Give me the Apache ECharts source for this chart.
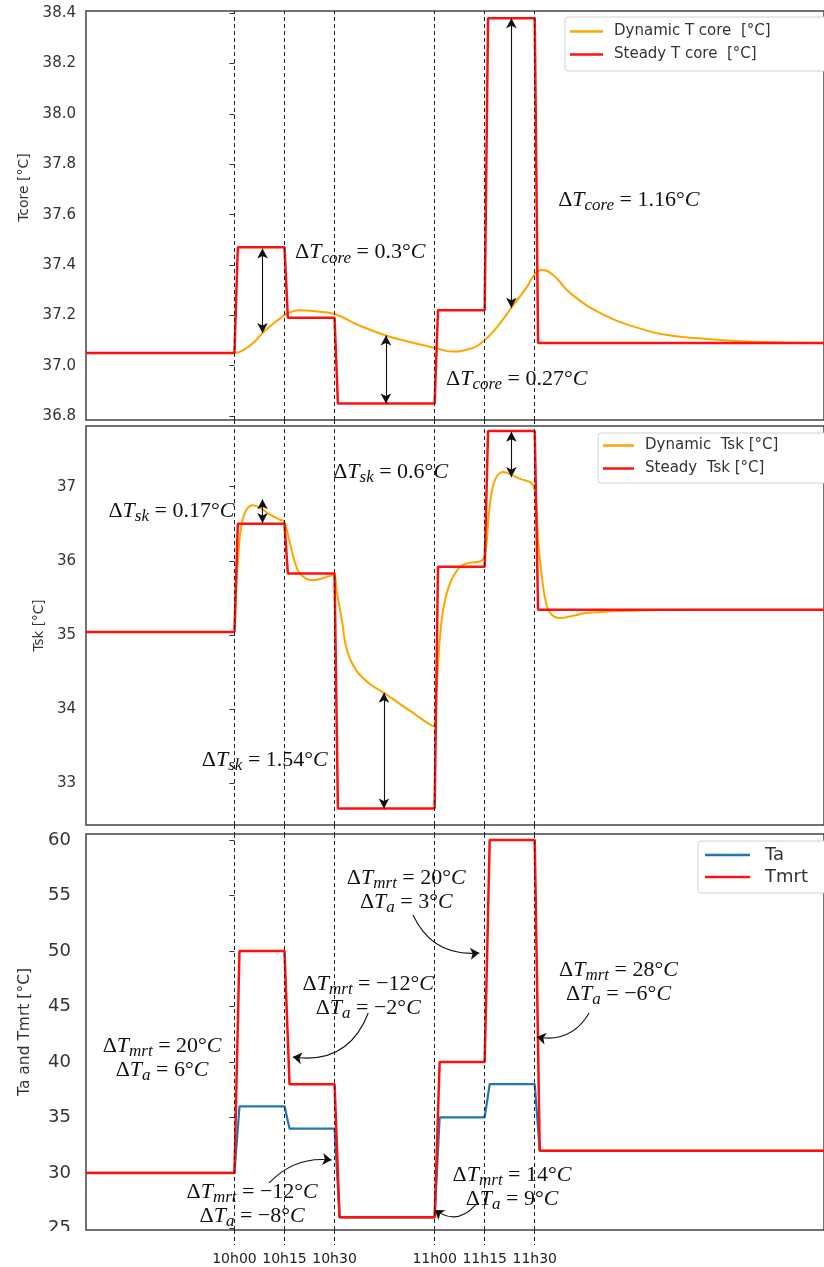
<!DOCTYPE html>
<html><head><meta charset="utf-8">
<script src="https://cdn.jsdelivr.net/npm/echarts@6/dist/echarts.min.js"></script>
<style>html,body{margin:0;padding:0;background:#fff}#c{width:824px;height:1267px}</style>
</head><body><div id="c"></div>
<script>
// ---------------- DATA (time = minutes after 10h00) ----------------
const timeTicks = [0, 15, 30, 60, 75, 90];
const timeTickLabels = ['10h00', '10h15', '10h30', '11h00', '11h15', '11h30'];

const tcoreTicks = [36.8, 37.0, 37.2, 37.4, 37.6, 37.8, 38.0, 38.2, 38.4];
const tskTicks = [33, 34, 35, 36, 37];
const taTicks = [25, 30, 35, 40, 45, 50, 55, 60];

// Panel 1 – core temperature
const tcoreSteadyTime  = [-44.5, 0, 1, 15, 16, 30, 31, 60, 61, 75, 76, 90, 91, 176.7];
const tcoreSteadyValue = [37.05, 37.05, 37.47, 37.47, 37.19, 37.19, 36.85, 36.85, 37.22, 37.22, 38.38, 38.38, 37.09, 37.09];
const tcoreDynTime  = [-44.5, 0, 3.0, 6.0, 8.4, 11.0, 13.4, 16.4, 19.4, 24.8, 29.9, 37.3, 45.4, 52.2, 60.3, 65.1, 70.1, 74.0, 78.5, 83.0, 87.5, 90.1, 91.9, 95.5, 100.9, 111.0, 120.9, 130.7, 140.9, 155.8, 176.7];
const tcoreDynValue = [37.05, 37.05, 37.065, 37.095, 37.13, 37.16, 37.185, 37.21, 37.22, 37.215, 37.205, 37.16, 37.12, 37.095, 37.07, 37.056, 37.065, 37.09, 37.15, 37.23, 37.31, 37.365, 37.38, 37.36, 37.285, 37.2, 37.15, 37.12, 37.107, 37.095, 37.09];

// Panel 2 – skin temperature
const tskSteadyTime  = [-44.5, 0, 1, 15, 16, 30, 31, 60, 61, 75, 76, 90, 91, 176.7];
const tskSteadyValue = [35.04, 35.04, 36.50, 36.50, 35.83, 35.83, 32.66, 32.66, 35.92, 35.92, 37.75, 37.75, 35.34, 35.34];
const tskDynTime  = [-44.5, -0.3, 0.15, 0.6, 1.2, 1.8, 2.7, 3.9, 5.4, 7.5, 10.4, 13.4, 14.9, 16.4, 17.9, 19.4, 21.5, 23.3, 26.0, 29.6, 30.7, 32.2, 33.7, 36.4, 40.3, 44.8, 52.2, 59.7, 60.6, 62.1, 64.2, 67.2, 70.1, 74.0, 75.2, 76.1, 77.0, 78.5, 80.6, 83.0, 86.0, 89.0, 90.2, 91.0, 91.9, 93.1, 94.6, 97.6, 101.5, 106.0, 120.9, 138.8, 176.7];
const tskDynValue = [35.04, 35.04, 35.2, 35.7, 36.1, 36.4, 36.6, 36.71, 36.75, 36.72, 36.63, 36.56, 36.53, 36.28, 36.01, 35.84, 35.76, 35.74, 35.76, 35.81, 35.57, 35.2, 34.8, 34.53, 34.35, 34.22, 33.99, 33.77, 34.3, 35.2, 35.65, 35.9, 35.97, 36.0, 36.1, 36.55, 36.9, 37.13, 37.2, 37.16, 37.1, 37.05, 36.9, 36.3, 35.88, 35.5, 35.3, 35.23, 35.26, 35.3, 35.33, 35.34, 35.34];

// Panel 3 – air and mean radiant temperature
const envTime   = [-44.5, 0, 1.5, 15, 16.5, 30, 31.5, 60, 61.5, 75, 76.5, 90, 91.5, 176.7];
const taValue   = [30, 30, 36, 36, 34, 34, 26, 26, 35, 35, 38, 38, 32, 32];
const tmrtValue = [30, 30, 50, 50, 38, 38, 26, 26, 40, 40, 60, 60, 32, 32];

// ---------------- CHART ----------------
const X_MIN = -44.5, X_MAX = 176.7;
const SANS = 'DejaVu Sans';
const SERIF = 'Liberation Serif';
const INK = '#111';
const zip = (t, v) => t.map((x, i) => [x, v[i]]);

function mathRich(fs, lh) {
  const sub = Math.round(fs * 0.76);
  return {
    d: { fontFamily: SERIF, fontSize: fs, color: INK, lineHeight: lh },
    i: { fontFamily: SERIF, fontStyle: 'italic', fontSize: fs, color: INK, lineHeight: lh },
    n: { fontFamily: SERIF, fontSize: fs, color: INK, lineHeight: lh },
    s: { fontFamily: SERIF, fontStyle: 'italic', fontSize: sub, color: INK, lineHeight: lh, padding: [Math.round(fs * 0.5), 0, 0, 0] }
  };
}
const dT = (sub, val) => `{d|Δ}{i|T}{s|${sub}}{n| = ${val}°}{i|C}`;

const dashTick = { color: '#222', width: 1, type: [4, 3] };
function xAxis(gi, bottom, gapTick) {
  const a = {
    type: 'value', gridIndex: gi, min: X_MIN, max: X_MAX,
    axisLine: { show: false }, splitLine: { show: false },
    axisTick: { show: true, customValues: timeTicks, length: gapTick, lineStyle: dashTick },
    axisLabel: { show: false }
  };
  if (bottom) {
    a.axisLabel = { show: true, customValues: timeTicks, formatter: v => timeTickLabels[timeTicks.indexOf(v)],
      margin: 22, fontSize: 14, fontFamily: SANS, color: '#222' };
  }
  return a;
}
function yAxis(gi, min, max, ticks, dec, fs, margin, name, nameFs, nameGap, namePad) {
  return {
    type: 'value', gridIndex: gi, min, max,
    axisLine: { show: false }, splitLine: { show: false },
    axisTick: { show: true, customValues: ticks, length: 5, lineStyle: { color: '#333', width: 1 } },
    axisLabel: { customValues: ticks, formatter: v => v.toFixed(dec), fontSize: fs, fontFamily: SANS, color: '#333', margin },
    name, nameLocation: 'middle', nameGap,
    nameTextStyle: { fontSize: nameFs, fontFamily: SANS, color: '#333', padding: namePad }
  };
}

function vlines(gi) {
  return {
    type: 'line', xAxisIndex: gi, yAxisIndex: gi, data: [], silent: true,
    markLine: { silent: true, symbol: ['none', 'none'], label: { show: false }, lineStyle: dashTick,
      data: timeTicks.map(t => ({ xAxis: t })) }
  };
}
function dbl(x, y1, y2) {
  return [{ coord: [x, y1], symbol: 'arrow' }, { coord: [x, y2], symbol: 'arrow' }];
}
function curvedArrow(gi, x1, y1, x2, y2, c) {
  return {
    type: 'lines', coordinateSystem: 'cartesian2d', xAxisIndex: gi, yAxisIndex: gi, silent: true, z: 5,
    symbol: ['none', 'arrow'], symbolSize: 9,
    lineStyle: { color: INK, width: 1.1, curveness: c, opacity: 1 },
    data: [{ coords: [[x1, y1], [x2, y2]] }]
  };
}
function annot(gi, arrows, texts, fs, lh) {
  return {
    type: 'line', xAxisIndex: gi, yAxisIndex: gi, data: [], silent: true, z: 5,
    markLine: { silent: true, symbolSize: [8, 10], label: { show: false },
      lineStyle: { color: INK, width: 1.1, type: 'solid' }, data: arrows },
    markPoint: { silent: true, symbol: 'circle', symbolSize: 1, itemStyle: { color: 'rgba(0,0,0,0)' },
      label: { show: true, position: 'inside', align: 'center', rich: mathRich(fs, lh) },
      data: texts.map(t => ({ coord: t.at, label: { formatter: t.text } })) }
  };
}

const legendBase = {
  orient: 'vertical', icon: 'rect', itemHeight: 2.5, borderColor: '#d0d0d0', borderWidth: 1,
  borderRadius: 3, backgroundColor: '#fff'
};

const option = {
  animation: false,
  textStyle: { fontFamily: SANS },
  grid: [
    { left: 86, right: -3, top: 11, height: 409, show: true, borderColor: '#444', borderWidth: 1.5, backgroundColor: '#fff' },
    { left: 86, right: -3, top: 426, height: 399, show: true, borderColor: '#444', borderWidth: 1.5, backgroundColor: '#fff' },
    { left: 86, right: -3, top: 834, height: 396, show: true, borderColor: '#444', borderWidth: 1.5, backgroundColor: '#fff' }
  ],
  xAxis: [xAxis(0, false, 6), xAxis(1, false, 9), xAxis(2, true, 15)],
  yAxis: [
    yAxis(0, 36.784, 38.409, tcoreTicks, 1, 15, 10, 'Tcore [°C]', 14, 52, [0, 0, 0, 56]),
    yAxis(1, 32.438, 37.819, tskTicks, 0, 15, 10, 'Tsk [°C]', 13.5, 37, 0),
    yAxis(2, 24.86, 60.54, taTicks, 0, 18, 15, 'Ta and Tmrt [°C]', 15.5, 53, 0)
  ],
  legend: [
    Object.assign({}, legendBase, { data: ['Dynamic T core  [°C]', 'Steady T core  [°C]'], left: 565, top: 17, itemWidth: 33,
      itemGap: 6, padding: [6, 80, 8, 5],
      textStyle: { fontSize: 15, color: '#333', fontFamily: SANS, padding: [0, 0, 0, 6], lineHeight: 17 } }),
    Object.assign({}, legendBase, { data: ['Dynamic  Tsk [°C]', 'Steady  Tsk [°C]'], left: 598, top: 433, itemWidth: 31,
      itemGap: 6, padding: [4, 80, 6, 5],
      textStyle: { fontSize: 15, color: '#333', fontFamily: SANS, padding: [0, 0, 0, 6], lineHeight: 17 } }),
    Object.assign({}, legendBase, { data: ['Ta', 'Tmrt'], left: 698, top: 841, itemWidth: 45,
      itemGap: 2, padding: [4, 80, 6, 7],
      textStyle: { fontSize: 18, color: '#333', fontFamily: SANS, padding: [0, 0, 0, 10], lineHeight: 20 } })
  ],
  series: [
    vlines(0), vlines(1), vlines(2),
    { name: 'Dynamic T core  [°C]', type: 'line', xAxisIndex: 0, yAxisIndex: 0, data: zip(tcoreDynTime, tcoreDynValue),
      showSymbol: false, smooth: 0.5, lineStyle: { color: '#ffa500', width: 2 }, itemStyle: { color: '#ffa500' } },
    { name: 'Steady T core  [°C]', type: 'line', xAxisIndex: 0, yAxisIndex: 0, data: zip(tcoreSteadyTime, tcoreSteadyValue),
      showSymbol: false, lineStyle: { color: '#ff1010', width: 2.5 }, itemStyle: { color: '#ff1010' } },
    { name: 'Dynamic  Tsk [°C]', type: 'line', xAxisIndex: 1, yAxisIndex: 1, data: zip(tskDynTime, tskDynValue),
      showSymbol: false, smooth: 0.4, lineStyle: { color: '#ffa500', width: 2 }, itemStyle: { color: '#ffa500' } },
    { name: 'Steady  Tsk [°C]', type: 'line', xAxisIndex: 1, yAxisIndex: 1, data: zip(tskSteadyTime, tskSteadyValue),
      showSymbol: false, lineStyle: { color: '#ff1010', width: 2.5 }, itemStyle: { color: '#ff1010' } },
    { name: 'Ta', type: 'line', xAxisIndex: 2, yAxisIndex: 2, data: zip(envTime, taValue),
      showSymbol: false, lineStyle: { color: '#1f77b4', width: 2.2 }, itemStyle: { color: '#1f77b4' } },
    { name: 'Tmrt', type: 'line', xAxisIndex: 2, yAxisIndex: 2, data: zip(envTime, tmrtValue),
      showSymbol: false, lineStyle: { color: '#ff1010', width: 2.5 }, itemStyle: { color: '#ff1010' } },
    annot(0, [dbl(8.4, 37.465, 37.13), dbl(45.4, 37.12, 36.85), dbl(83.0, 38.38, 37.23)], [
      { at: [37.7, 37.449], text: dT('core', '0.3') },
      { at: [84.6, 36.947], text: dT('core', '0.27') },
      { at: [118.2, 37.658], text: dT('core', '1.16') }
    ], 22, 26),
    annot(1, [dbl(8.4, 36.83, 36.51), dbl(44.8, 34.22, 32.66), dbl(83.0, 37.74, 37.13)], [
      { at: [-18.9, 36.672], text: dT('sk', '0.17') },
      { at: [46.8, 37.198], text: dT('sk', '0.6') },
      { at: [9.1, 33.314], text: dT('sk', '1.54') }
    ], 22, 26),
    annot(2, [], [
      { at: [-21.7, 40.36], text: dT('mrt', '20') + '\n' + dT('a', '6') },
      { at: [40.1, 45.95], text: dT('mrt', '−12') + '\n' + dT('a', '−2') },
      { at: [5.3, 27.2], text: dT('mrt', '−12') + '\n' + dT('a', '−8') },
      { at: [51.5, 55.5], text: dT('mrt', '20') + '\n' + dT('a', '3') },
      { at: [115.1, 47.2], text: dT('mrt', '28') + '\n' + dT('a', '−6') },
      { at: [83.2, 28.74], text: dT('mrt', '14') + '\n' + dT('a', '9') }
    ], 22, 24),
    curvedArrow(2, 40.1, 44.41, 17.5, 40.45, 0.4),
    curvedArrow(2, 10.4, 29.1, 29.1, 31.17, 0.25),
    curvedArrow(2, 53.5, 53.24, 73.4, 49.82, -0.35),
    curvedArrow(2, 106.3, 44.41, 90.6, 42.25, 0.35),
    curvedArrow(2, 72.2, 27.1, 60.0, 26.67, 0.45)
  ],
  graphic: [{ type: 'rect', left: 0, top: 1231, shape: { width: 84, height: 36 }, style: { fill: '#fff' }, z: 100 }]
};
const chart = echarts.init(document.getElementById('c'), null, { renderer: 'canvas', width: 824, height: 1267 });
chart.setOption(option);
</script></body></html>
